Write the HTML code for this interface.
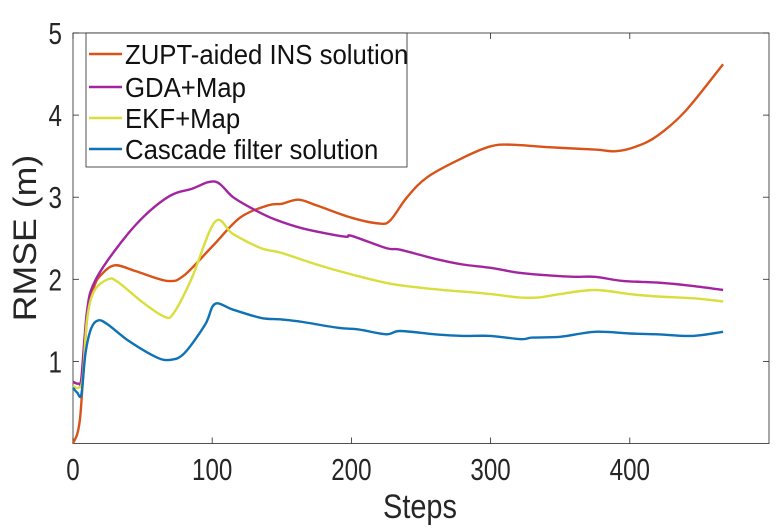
<!DOCTYPE html>
<html><head><meta charset="utf-8"><style>
html,body{margin:0;padding:0;background:#fff;}
svg{display:block;font-family:"Liberation Sans",Arial,sans-serif;}
</style></head><body>
<svg id="chart" width="779" height="531" viewBox="0 0 779 531">
<g id="axes"></g>
<g id="series"></g>
<g id="legend"></g>
</svg>
<script>
const xTicks = [0, 100, 200, 300, 400];
const yTicks = [1, 2, 3, 4, 5];
const seriesNames = ["ZUPT-aided INS solution", "GDA+Map", "EKF+Map", "Cascade filter solution"];
const seriesColors = ["#D95319", "#A2259F", "#D8DE3C", "#0F72B5"];
const zuptX = [0,5,10,15,20,30,45,68,80,100,120,140,150,162,175,200,220,228,240,255,280,300,315,340,375,390,405,420,440,467];
const zuptY = [0,0.3,1.5,1.9,2.05,2.17,2.1,1.98,2.05,2.4,2.75,2.9,2.92,2.97,2.9,2.75,2.68,2.72,3.0,3.25,3.48,3.62,3.64,3.61,3.58,3.56,3.62,3.75,4.05,4.62];
const gdaX = [0,4,6,10,15,30,50,70,85,102,115,130,145,165,195,200,225,235,260,280,300,320,340,360,375,395,420,445,467];
const gdaY = [0.75,0.73,0.8,1.6,1.95,2.35,2.75,3.02,3.1,3.19,3.0,2.85,2.73,2.62,2.52,2.53,2.38,2.36,2.25,2.18,2.14,2.08,2.05,2.03,2.03,1.98,1.96,1.92,1.87];
const ekfX = [0,4,7,10,15,25,32,50,65,72,85,102,115,135,150,175,200,230,260,280,300,320,335,350,375,400,420,445,467];
const ekfY = [0.7,0.68,0.8,1.5,1.85,2.0,1.97,1.72,1.55,1.58,2.0,2.7,2.55,2.38,2.32,2.18,2.06,1.94,1.88,1.85,1.82,1.78,1.78,1.82,1.87,1.82,1.79,1.77,1.73];
const cascX = [0,3,6,9,13,18,25,40,60,70,80,95,102,115,135,150,165,190,205,225,235,260,280,300,322,330,350,375,400,420,445,467];
const cascY = [0.68,0.62,0.6,1.1,1.4,1.5,1.45,1.25,1.05,1.02,1.1,1.45,1.7,1.63,1.53,1.51,1.48,1.41,1.39,1.33,1.37,1.33,1.31,1.31,1.27,1.29,1.30,1.36,1.34,1.33,1.31,1.36];

const NS = "http://www.w3.org/2000/svg";
const L = 73, R = 769, T = 33, B = 443.5;
const xMax = 500, yMax = 5;
function sx(v){ return L + v / xMax * (R - L); }
function sy(v){ return B - v / yMax * (B - T); }
function mk(tag, attrs, parent){ const e = document.createElementNS(NS, tag); for (const k in attrs) e.setAttribute(k, attrs[k]); parent.appendChild(e); return e; }
function smoothPath(pts){
  let d = "M" + pts[0][0].toFixed(1) + "," + pts[0][1].toFixed(1);
  for (let i = 0; i < pts.length - 1; i++) {
    const p0 = pts[Math.max(0, i-1)], p1 = pts[i], p2 = pts[i+1], p3 = pts[Math.min(pts.length-1, i+2)];
    const c1x = p1[0] + (p2[0]-p0[0])/6, c1y = p1[1] + (p2[1]-p0[1])/6;
    const c2x = p2[0] - (p3[0]-p1[0])/6, c2y = p2[1] - (p3[1]-p1[1])/6;
    d += " C" + c1x.toFixed(1) + "," + c1y.toFixed(1) + " " + c2x.toFixed(1) + "," + c2y.toFixed(1) + " " + p2[0].toFixed(1) + "," + p2[1].toFixed(1);
  }
  return d;
}

const axes = document.getElementById("axes");
const frame = mk("rect", {x:L, y:T, width:R-L, height:B-T, fill:"none", stroke:"#262626", "stroke-width":0.8}, axes);


xTicks.forEach(v => {
  const x = sx(v);
  const t1 = mk("line", {x1:x, x2:x, y1:B, y2:B-6, stroke:"#262626", "stroke-width":0.8}, axes);
  
  
  const t2 = mk("line", {x1:x, x2:x, y1:T, y2:T+6, stroke:"#262626", "stroke-width":0.8}, axes);
  
  
  const lb = mk("text", {x:x, y:480, "text-anchor":"middle", "font-size":31, fill:"#262626", transform:`translate(${x},0) scale(0.78,1) translate(${-x},0)`}, axes);
  lb.textContent = v;
  
  
});
yTicks.forEach(v => {
  const y = sy(v);
  const t1 = mk("line", {x1:L, x2:L+6, y1:y, y2:y, stroke:"#262626", "stroke-width":0.8}, axes);
  
  
  const t2 = mk("line", {x1:R, x2:R-6, y1:y, y2:y, stroke:"#262626", "stroke-width":0.8}, axes);
  
  
  const lb = mk("text", {x:62, y:y+11, "text-anchor":"end", "font-size":31, fill:"#262626", transform:`translate(62,0) scale(0.78,1) translate(-62,0)`}, axes);
  lb.textContent = v;
  
  
});
const xt = mk("text", {x:420, y:518, "text-anchor":"middle", "font-size":34, fill:"#262626", transform:"translate(420,0) scale(0.85,1) translate(-420,0)"}, axes);
xt.textContent = "Steps";


const yt = mk("text", {x:0, y:0, "text-anchor":"middle", "font-size":34, fill:"#262626", transform:"translate(36,238) rotate(-90) scale(1.05,0.95)"}, axes);
yt.textContent = "RMSE (m)";



const seriesG = document.getElementById("series");
const allX = [zuptX, gdaX, ekfX, cascX], allY = [zuptY, gdaY, ekfY, cascY];
const keys = ["zupt", "gda", "ekf", "cascade"];
for (let i = 0; i < 4; i++) {
  const pts = allX[i].map((v, j) => [sx(v), sy(allY[i][j])]);
  const p = mk("path", {d:smoothPath(pts), fill:"none", stroke:seriesColors[i], "stroke-width":2.4, "stroke-linejoin":"round"}, seriesG);
  
  
}

const lg = document.getElementById("legend");
const box = mk("rect", {x:86, y:33, width:321, height:134, fill:"#fff", stroke:"#262626", "stroke-width":0.8}, lg);


const ly = [54, 87, 118, 149];
for (let i = 0; i < 4; i++) {
  const ln = mk("line", {x1:89, x2:122, y1:ly[i], y2:ly[i], stroke:seriesColors[i], "stroke-width":2.4}, lg);
  
  
  const tx = mk("text", {x:125, y:ly[i]+10, "font-size":28, fill:"#111", transform:"translate(125,0) scale(0.92,1) translate(-125,0)"}, lg);
  tx.textContent = seriesNames[i];
  
  
}
</script>
</body></html>
